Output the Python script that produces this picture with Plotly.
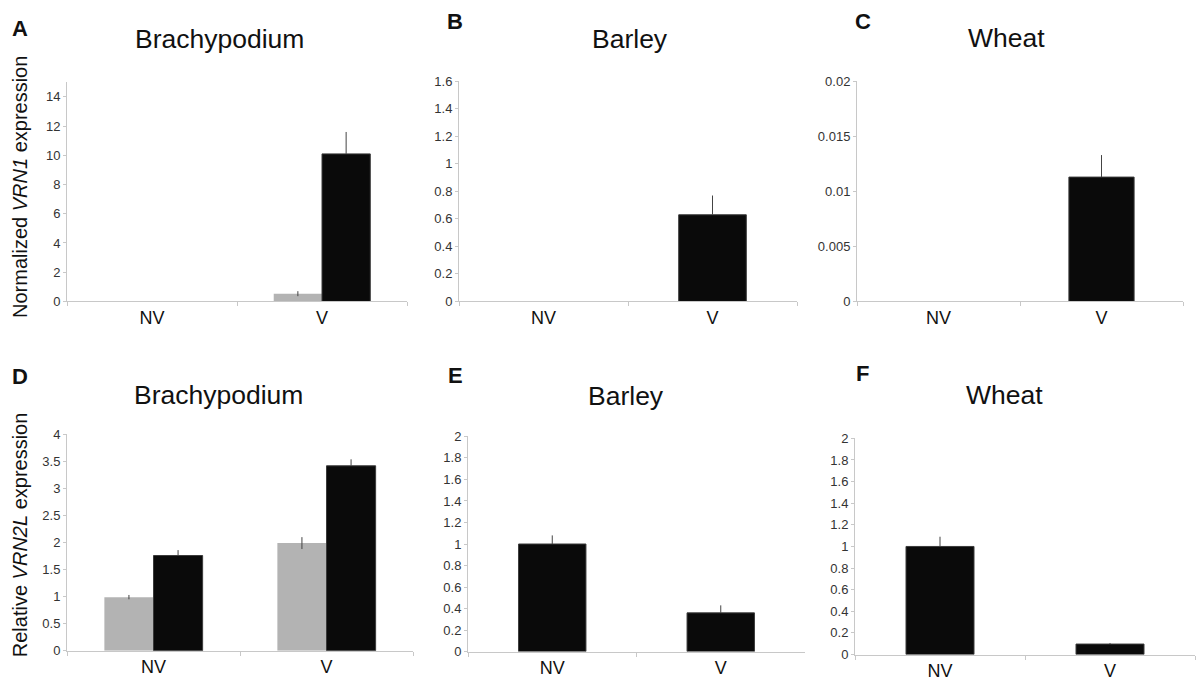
import plotly.graph_objects as go

W, H = 1200, 687

categories = ["NV", "V"]

# Panel A: Brachypodium VRN1
a_gray = [0, 0.53]
a_gray_err = [0, 0.17]
a_black = [0, 10.1]
a_black_err = [0, 1.5]
# Panel B: Barley VRN1
b_black = [0, 0.63]
b_black_err = [0, 0.14]
# Panel C: Wheat VRN1
c_black = [0, 0.0113]
c_black_err = [0, 0.002]
# Panel D: Brachypodium VRN2L
d_gray = [0.99, 1.99]
d_gray_err = [0.04, 0.11]
d_black = [1.76, 3.42]
d_black_err = [0.1, 0.12]
# Panel E: Barley VRN2L
e_black = [1.0, 0.36]
e_black_err = [0.08, 0.07]
# Panel F: Wheat VRN2L
f_black = [1.0, 0.097]
f_black_err = [0.09, 0.01]

y_ticks_A = [0, 2, 4, 6, 8, 10, 12, 14]
y_ticks_B = [0, 0.2, 0.4, 0.6, 0.8, 1, 1.2, 1.4, 1.6]
y_ticks_C = [0, 0.005, 0.01, 0.015, 0.02]
y_ticks_D = [0, 0.5, 1, 1.5, 2, 2.5, 3, 3.5, 4]
y_ticks_EF = [0, 0.2, 0.4, 0.6, 0.8, 1, 1.2, 1.4, 1.6, 1.8, 2]

GRAY = "#b3b3b3"
BLACK = "#0a0a0a"
ERR = "#444444"
AXC = "#c8c8c8"


def px(x):
    return x / W


def py(y):
    return 1 - y / H


panels = [
    dict(x=(67, 407), y=(301, 77), rng=[0, 15], ticks=y_ticks_A),
    dict(x=(459, 797), y=(301, 76), rng=[0, 1.6], ticks=y_ticks_B),
    dict(x=(857, 1183), y=(301, 76), rng=[0, 0.02], ticks=y_ticks_C),
    dict(x=(67, 413), y=(658, 437), rng=[0, 4], ticks=y_ticks_D),
    dict(x=(468, 805), y=(659, 439), rng=[0, 2], ticks=y_ticks_EF),
    dict(x=(855, 1195), y=(662, 441), rng=[0, 2], ticks=y_ticks_EF),
]

fig = go.Figure()


def add_bar(i, vals, errs, color, offset, width):
    sfx = "" if i == 0 else str(i + 1)
    is_black = color == BLACK
    lw = [1 if v > 0 else 0 for v in vals] if is_black else 0
    err = dict(type="data", array=errs, visible=True, color=ERR, thickness=1, width=0)
    if is_black:
        # lower half of the bar's error line is hidden inside the black bar
        err.update(symmetric=False, arrayminus=[0] * len(errs))
    fig.add_trace(go.Bar(
        x=categories, y=vals,
        xaxis="x" + sfx, yaxis="y" + sfx,
        marker=dict(color=color, line=dict(color="#3a3a3a", width=lw)),
        offset=offset, width=width,
        error_y=err,
        showlegend=False, hoverinfo="y",
    ))


gw = 0.284
add_bar(0, a_gray, a_gray_err, GRAY, -gw, gw)
add_bar(0, a_black, a_black_err, BLACK, 0, gw)
add_bar(1, b_black, b_black_err, BLACK, -0.2, 0.4)
add_bar(2, c_black, c_black_err, BLACK, -0.2, 0.4)
add_bar(3, d_gray, d_gray_err, GRAY, -gw, gw)
add_bar(3, d_black, d_black_err, BLACK, 0, gw)
add_bar(4, e_black, e_black_err, BLACK, -0.2, 0.4)
add_bar(5, f_black, f_black_err, BLACK, -0.2, 0.4)

layout = dict(
    width=W, height=H, autosize=False,
    margin=dict(l=0, r=0, t=0, b=0),
    paper_bgcolor="white", plot_bgcolor="white",
    barmode="overlay",
    font=dict(family="Liberation Sans, Arial, sans-serif", color="#222"),
    showlegend=False,
)

for i, p in enumerate(panels):
    sfx = "" if i == 0 else str(i + 1)
    layout["xaxis" + sfx] = dict(
        domain=[px(p["x"][0]), px(p["x"][1])],
        anchor="y" + sfx,
        type="category", range=[-0.5, 1.5],
        showline=True, linecolor=AXC, linewidth=1,
        ticks="outside", tickson="boundaries", ticklen=4, tickcolor=AXC,
        showgrid=False, zeroline=False,
        tickfont=dict(size=18, color="#111"),
    )
    layout["yaxis" + sfx] = dict(
        domain=[py(p["y"][0]), py(p["y"][1])],
        anchor="x" + sfx,
        range=p["rng"], tickvals=p["ticks"],
        ticktext=[f"{t:g}" for t in p["ticks"]],
        showline=True, linecolor=AXC, linewidth=1,
        ticks="outside", ticklen=3, tickcolor=AXC,
        showgrid=False, zeroline=False,
        tickfont=dict(size=13, color="#333"),
    )

annotations = []
titles = [
    ("Brachypodium", 220, 33), ("Barley", 630, 33), ("Wheat", 1007, 32),
    ("Brachypodium", 218, 397), ("Barley", 626, 398), ("Wheat", 1004, 397),
]
for t, x, y in titles:
    annotations.append(dict(text=t, x=px(x), y=py(y), xref="paper", yref="paper",
                            xanchor="center", yanchor="middle", showarrow=False,
                            font=dict(size=26.5, color="#111")))

letters = [("A", 20, 22), ("B", 455, 15), ("C", 863, 15),
           ("D", 20, 378), ("E", 455, 377), ("F", 862, 375)]
for t, x, y in letters:
    annotations.append(dict(text=f"<b>{t}</b>", x=px(x), y=py(y), xref="paper", yref="paper",
                            xanchor="center", yanchor="middle", showarrow=False,
                            font=dict(size=22, color="#111")))

annotations.append(dict(text="Normalized <i>VRN1</i> expression", x=px(20), y=py(184),
                        xref="paper", yref="paper", textangle=-90, showarrow=False,
                        xanchor="center", yanchor="middle", font=dict(size=20, color="#111")))
annotations.append(dict(text="Relative <i>VRN2L</i> expression", x=px(20), y=py(540),
                        xref="paper", yref="paper", textangle=-90, showarrow=False,
                        xanchor="center", yanchor="middle", font=dict(size=20, color="#111")))

layout["annotations"] = annotations
fig.update_layout(**layout)

fig.write_html(
    "out.html",
    config={"displayModeBar": False},
    post_script="document.body.style.margin='0';document.body.style.overflow='hidden';",
)
